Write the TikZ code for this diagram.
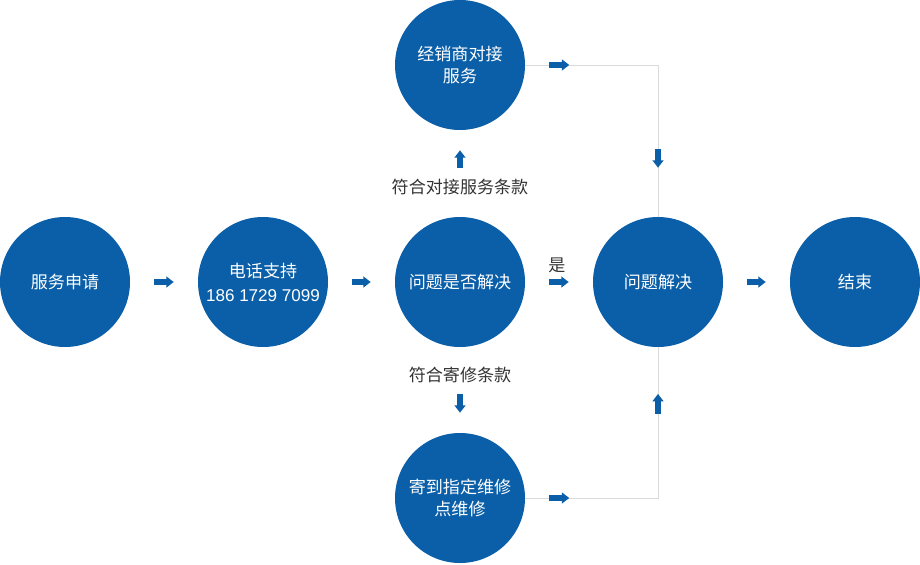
\documentclass[tikz,border=0pt]{standalone}
\usepackage{fontspec}
\setmainfont{Noto Sans CJK SC}
\newfontfamily\numfont{Liberation Sans}
\usetikzlibrary{arrows.meta}
\definecolor{svcblue}{HTML}{0B5FA8}
\definecolor{linegray}{HTML}{DADADA}
\definecolor{textgray}{HTML}{333333}

\begin{document}
\begin{tikzpicture}[
    x=0.75pt,
    y=-0.75pt,
    every node/.style={font=\fontsize{12.8pt}{16.5pt}\selectfont},
    stage/.style={circle, fill=svcblue, text=white, align=center,
        minimum size=97.5pt, inner sep=0pt},
    flow/.style={-{Triangle[length=5.5pt,width=8pt]}, draw=svcblue,
        line width=3.8pt},
    link/.style={draw=linegray, line width=0.75pt},
    cond/.style={text=textgray, inner sep=1pt}
]
    \fill[white] (0,0) rectangle (920,564);
    \useasboundingbox (0,0) rectangle (920,564);

    \node[stage] (apply) at (65,282) {服务申请};
    \node[stage] (phone) at (263,282)
        {电话支持\\[1.5pt]{\numfont 186 1729 7099}};
    \node[stage] (check) at (460,282) {问题是否解决};
    \node[stage] (solved) at (658,282) {问题解决};
    \node[stage] (finish) at (855,282) {结束};

    \node[stage] (dealer) at (460,65) {经销商对接\\服务};
    \node[stage] (repair) at (460,498) {寄到指定维修\\点维修};

    \node[cond] (dealercond) at (460,187) {符合对接服务条款};
    \node[cond] (repaircond) at (460,375) {符合寄修条款};
    \node[cond] (yes) at (557,265) {是};

    % side routes
    \draw[link] (dealer.east) -| (solved.north);
    \draw[link] (repair.east) -| (solved.south);

    \draw[flow, shorten <=18pt, shorten >=18pt] (apply) -- (phone);
    \draw[flow, shorten <=18pt, shorten >=18pt] (phone) -- (check);
    \draw[flow, shorten <=18pt, shorten >=18pt] (check) -- (solved);
    \draw[flow, shorten <=18pt, shorten >=18pt] (solved) -- (finish);

    \draw[flow, shorten <=36.5pt, shorten >=15pt] (check) -- (dealer);
    \draw[flow, shorten <=35pt, shorten >=15pt] (check) -- (repair);

    \draw[flow] ([xshift=18pt]dealer.east) -- ++(20,0);
    \draw[flow] ([xshift=18pt]repair.east) -- ++(20,0);
    \draw[flow] ([yshift=51pt]solved.north) -- ++(0,19);
    \draw[flow] ([yshift=-50pt]solved.south) -- ++(0,-20);
\end{tikzpicture}
\end{document}
